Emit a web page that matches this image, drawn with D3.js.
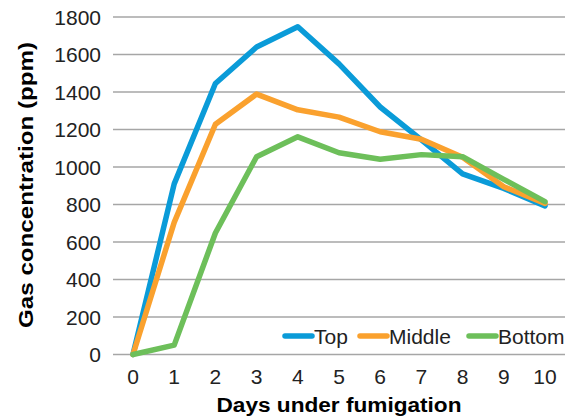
<!DOCTYPE html>
<html><head><meta charset="utf-8">
<script src="https://cdn.jsdelivr.net/npm/d3@7"></script>
<style>body{margin:0;background:#fff}svg{display:block}</style>
</head><body>
<svg id="c" width="576" height="418"></svg>
<script>
const days = [0,1,2,3,4,5,6,7,8,9,10];
const topVals    = [0, 910, 1445, 1640, 1748, 1550, 1320, 1145, 963, 886, 792];
const middleVals = [0, 705, 1228, 1389, 1305, 1266, 1188, 1148, 1052, 895, 806];
const bottomVals = [0, 50, 648, 1055, 1161, 1076, 1041, 1066, 1055, 934, 815];
const seriesNames = ["Top","Middle","Bottom"];
const seriesColors = ["#0A9BD8","#FAA12E","#6DBF5A"];
const yTicks = [0,200,400,600,800,1000,1200,1400,1600,1800];
const xLabel = "Days under fumigation";
const yLabel = "Gas concentration (ppm)";

const svg = d3.select("#c");
const x = d3.scaleLinear().domain([0,10]).range([133,545]);
const y = d3.scaleLinear().domain([0,1800]).range([354.5,17]);
const font = "'Liberation Sans', Arial, Helvetica, sans-serif";

// grid
svg.append("g").selectAll("line").data(yTicks).join("line")
  .attr("x1",113).attr("x2",565)
  .attr("y1",d=>y(d)).attr("y2",d=>y(d))
  .attr("stroke","#a6a6a6").attr("stroke-width",1.3);

// y tick labels
svg.append("g").selectAll("text").data(yTicks).join("text")
  .attr("x",101).attr("y",d=>y(d)+7.5)
  .attr("text-anchor","end").attr("font-family",font).attr("font-size",21)
  .attr("fill","#222").text(d=>d);

// x tick labels
svg.append("g").selectAll("text").data(days).join("text")
  .attr("x",d=>x(d)).attr("y",383.5)
  .attr("text-anchor","middle").attr("font-family",font).attr("font-size",21)
  .attr("fill","#222").text(d=>d);

// titles
svg.append("text").attr("x",339).attr("y",411.5).attr("text-anchor","middle")
  .attr("font-family",font).attr("font-size",20).attr("font-weight","bold")
  .attr("textLength",245).attr("lengthAdjust","spacingAndGlyphs")
  .text(xLabel);
svg.append("text").attr("transform","translate(33,185) rotate(-90)")
  .attr("text-anchor","middle")
  .attr("font-family",font).attr("font-size",21).attr("font-weight","bold")
  .attr("textLength",286).attr("lengthAdjust","spacingAndGlyphs")
  .text(yLabel);

// lines
const data = [topVals, middleVals, bottomVals];
const line = d3.line().x((d,i)=>x(days[i])).y(d=>y(d));
svg.append("g").selectAll("path").data(data).join("path")
  .attr("d",line).attr("fill","none")
  .attr("stroke",(d,i)=>seriesColors[i]).attr("stroke-width",5.5)
  .attr("stroke-linejoin","round").attr("stroke-linecap","round");

// legend
const legX = [285, 360, 469];
const lg = svg.append("g").selectAll("g").data(seriesNames).join("g")
  .attr("transform",(d,i)=>`translate(${legX[i]},336)`);
lg.append("line").attr("x1",0).attr("x2",27).attr("y1",0).attr("y2",0)
  .attr("stroke",(d,i)=>seriesColors[i]).attr("stroke-width",5.5).attr("stroke-linecap","round");
lg.append("text").attr("x",29).attr("y",8)
  .attr("font-family",font).attr("font-size",21).attr("fill","#222").text(d=>d);
</script>
</body></html>
